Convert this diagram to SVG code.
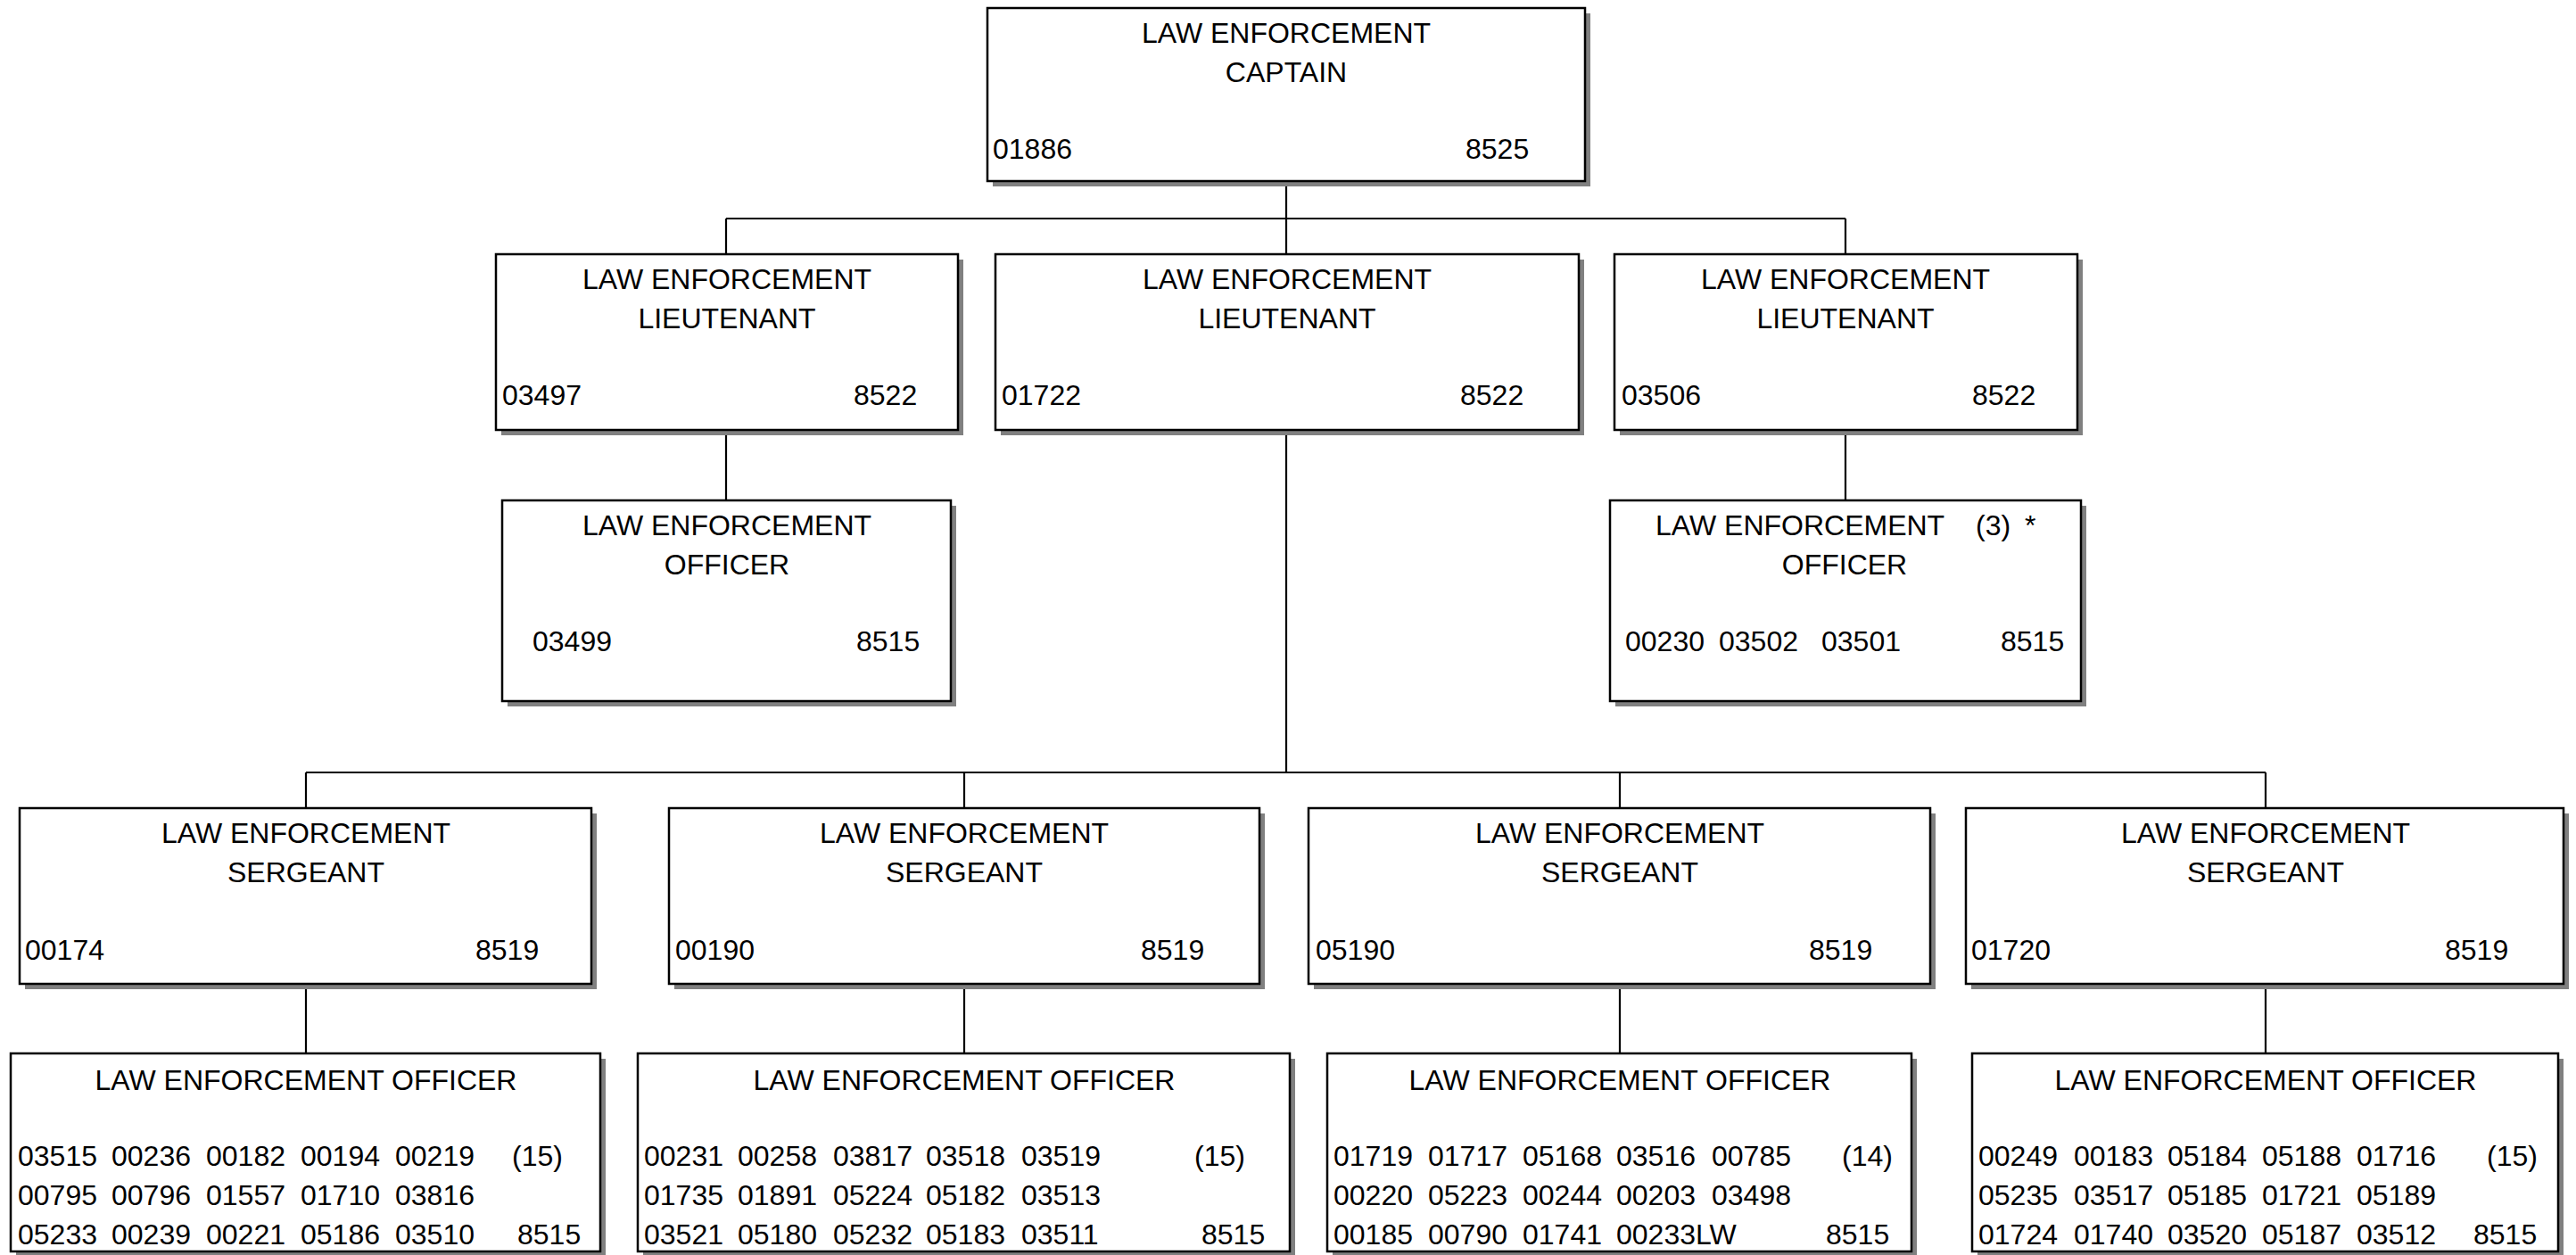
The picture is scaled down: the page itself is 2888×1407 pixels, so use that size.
<svg xmlns="http://www.w3.org/2000/svg" width="2888" height="1407" viewBox="0 0 2888 1407">
<style>
.sh{fill:#808080}
.bx{fill:#fff;stroke:#000;stroke-width:2.5}
.ln{stroke:#000;stroke-width:2.2;fill:none}
text{font-family:"Liberation Sans",Arial,Helvetica,sans-serif;font-size:32px;fill:#000}
.c{text-anchor:middle}
</style>
<rect width="2888" height="1407" fill="#fff"/>
<g id="connectors">
<path class="ln" d="M1442 203V245M814 245H2069M814 245V285M1442 245V285M2069 245V285"/>
<path class="ln" d="M814 482V561M2069 482V561"/>
<path class="ln" d="M1442 482V866M343 866H2540M343 866V906M1081 866V906M1816 866V906M2540 866V906"/>
<path class="ln" d="M343 1103V1181M1081 1103V1181M1816 1103V1181M2540 1103V1181"/>
</g>
<g id="captain">
<rect class="sh" x="1113" y="15" width="670" height="194"/>
<rect class="bx" x="1107" y="9" width="670" height="194"/>
<text class="c" x="1442" y="48">LAW ENFORCEMENT</text>
<text class="c" x="1442" y="92">CAPTAIN</text>
<text x="1113" y="178">01886</text>
<text x="1643" y="178">8525</text>
</g>
<g id="lieutenant1">
<rect class="sh" x="562" y="291" width="518" height="197"/>
<rect class="bx" x="556" y="285" width="518" height="197"/>
<text class="c" x="815" y="324">LAW ENFORCEMENT</text>
<text class="c" x="815" y="368">LIEUTENANT</text>
<text x="563" y="454">03497</text>
<text x="957" y="454">8522</text>
</g>
<g id="lieutenant2">
<rect class="sh" x="1122" y="291" width="654" height="197"/>
<rect class="bx" x="1116" y="285" width="654" height="197"/>
<text class="c" x="1443" y="324">LAW ENFORCEMENT</text>
<text class="c" x="1443" y="368">LIEUTENANT</text>
<text x="1123" y="454">01722</text>
<text x="1637" y="454">8522</text>
</g>
<g id="lieutenant3">
<rect class="sh" x="1816" y="291" width="519" height="197"/>
<rect class="bx" x="1810" y="285" width="519" height="197"/>
<text class="c" x="2069" y="324">LAW ENFORCEMENT</text>
<text class="c" x="2069" y="368">LIEUTENANT</text>
<text x="1818" y="454">03506</text>
<text x="2211" y="454">8522</text>
</g>
<g id="officer1">
<rect class="sh" x="569" y="567" width="503" height="225"/>
<rect class="bx" x="563" y="561" width="503" height="225"/>
<text class="c" x="815" y="600">LAW ENFORCEMENT</text>
<text class="c" x="815" y="644">OFFICER</text>
<text x="597" y="730">03499</text>
<text x="960" y="730">8515</text>
</g>
<g id="officer3">
<rect class="sh" x="1811" y="567" width="528" height="225"/>
<rect class="bx" x="1805" y="561" width="528" height="225"/>
<text y="600"><tspan x="1856">LAW ENFORCEMENT</tspan><tspan x="2215">(3)</tspan><tspan x="2270">*</tspan></text>
<text class="c" x="2068" y="644">OFFICER</text>
<text y="730"><tspan x="1822">00230</tspan><tspan x="1927">03502</tspan><tspan x="2042">03501</tspan><tspan x="2243">8515</tspan></text>
</g>
<g id="sergeant1">
<rect class="sh" x="28" y="912" width="641" height="197"/>
<rect class="bx" x="22" y="906" width="641" height="197"/>
<text class="c" x="343" y="945">LAW ENFORCEMENT</text>
<text class="c" x="343" y="989">SERGEANT</text>
<text x="28" y="1076">00174</text>
<text x="533" y="1076">8519</text>
</g>
<g id="sergeant2">
<rect class="sh" x="756" y="912" width="662" height="197"/>
<rect class="bx" x="750" y="906" width="662" height="197"/>
<text class="c" x="1081" y="945">LAW ENFORCEMENT</text>
<text class="c" x="1081" y="989">SERGEANT</text>
<text x="757" y="1076">00190</text>
<text x="1279" y="1076">8519</text>
</g>
<g id="sergeant3">
<rect class="sh" x="1473" y="912" width="697" height="197"/>
<rect class="bx" x="1467" y="906" width="697" height="197"/>
<text class="c" x="1816" y="945">LAW ENFORCEMENT</text>
<text class="c" x="1816" y="989">SERGEANT</text>
<text x="1475" y="1076">05190</text>
<text x="2028" y="1076">8519</text>
</g>
<g id="sergeant4">
<rect class="sh" x="2210" y="912" width="670" height="197"/>
<rect class="bx" x="2204" y="906" width="670" height="197"/>
<text class="c" x="2540" y="945">LAW ENFORCEMENT</text>
<text class="c" x="2540" y="989">SERGEANT</text>
<text x="2210" y="1076">01720</text>
<text x="2741" y="1076">8519</text>
</g>
<g id="officers1">
<rect class="sh" x="18" y="1187" width="661" height="222"/>
<rect class="bx" x="12" y="1181" width="661" height="222"/>
<text class="c" x="343" y="1222">LAW ENFORCEMENT OFFICER</text>
<text y="1307"><tspan x="20">03515</tspan><tspan x="125">00236</tspan><tspan x="231">00182</tspan><tspan x="337">00194</tspan><tspan x="443">00219</tspan><tspan x="574">(15)</tspan></text>
<text y="1351"><tspan x="20">00795</tspan><tspan x="125">00796</tspan><tspan x="231">01557</tspan><tspan x="337">01710</tspan><tspan x="443">03816</tspan></text>
<text y="1395"><tspan x="20">05233</tspan><tspan x="125">00239</tspan><tspan x="231">00221</tspan><tspan x="337">05186</tspan><tspan x="443">03510</tspan><tspan x="580">8515</tspan></text>
</g>
<g id="officers2">
<rect class="sh" x="721" y="1187" width="731" height="222"/>
<rect class="bx" x="715" y="1181" width="731" height="222"/>
<text class="c" x="1081" y="1222">LAW ENFORCEMENT OFFICER</text>
<text y="1307"><tspan x="722">00231</tspan><tspan x="827">00258</tspan><tspan x="934">03817</tspan><tspan x="1038">03518</tspan><tspan x="1145">03519</tspan><tspan x="1339">(15)</tspan></text>
<text y="1351"><tspan x="722">01735</tspan><tspan x="827">01891</tspan><tspan x="934">05224</tspan><tspan x="1038">05182</tspan><tspan x="1145">03513</tspan></text>
<text y="1395"><tspan x="722">03521</tspan><tspan x="827">05180</tspan><tspan x="934">05232</tspan><tspan x="1038">05183</tspan><tspan x="1145">03511</tspan><tspan x="1347">8515</tspan></text>
</g>
<g id="officers3">
<rect class="sh" x="1494" y="1187" width="655" height="222"/>
<rect class="bx" x="1488" y="1181" width="655" height="222"/>
<text class="c" x="1816" y="1222">LAW ENFORCEMENT OFFICER</text>
<text y="1307"><tspan x="1495">01719</tspan><tspan x="1601">01717</tspan><tspan x="1707">05168</tspan><tspan x="1812">03516</tspan><tspan x="1919">00785</tspan><tspan x="2065">(14)</tspan></text>
<text y="1351"><tspan x="1495">00220</tspan><tspan x="1601">05223</tspan><tspan x="1707">00244</tspan><tspan x="1812">00203</tspan><tspan x="1919">03498</tspan></text>
<text y="1395"><tspan x="1495">00185</tspan><tspan x="1601">00790</tspan><tspan x="1707">01741</tspan><tspan x="1812">00233LW</tspan><tspan x="2047">8515</tspan></text>
</g>
<g id="officers4">
<rect class="sh" x="2217" y="1187" width="657" height="222"/>
<rect class="bx" x="2211" y="1181" width="657" height="222"/>
<text class="c" x="2540" y="1222">LAW ENFORCEMENT OFFICER</text>
<text y="1307"><tspan x="2218">00249</tspan><tspan x="2325">00183</tspan><tspan x="2430">05184</tspan><tspan x="2536">05188</tspan><tspan x="2642">01716</tspan><tspan x="2788">(15)</tspan></text>
<text y="1351"><tspan x="2218">05235</tspan><tspan x="2325">03517</tspan><tspan x="2430">05185</tspan><tspan x="2536">01721</tspan><tspan x="2642">05189</tspan></text>
<text y="1395"><tspan x="2218">01724</tspan><tspan x="2325">01740</tspan><tspan x="2430">03520</tspan><tspan x="2536">05187</tspan><tspan x="2642">03512</tspan><tspan x="2773">8515</tspan></text>
</g>
</svg>
